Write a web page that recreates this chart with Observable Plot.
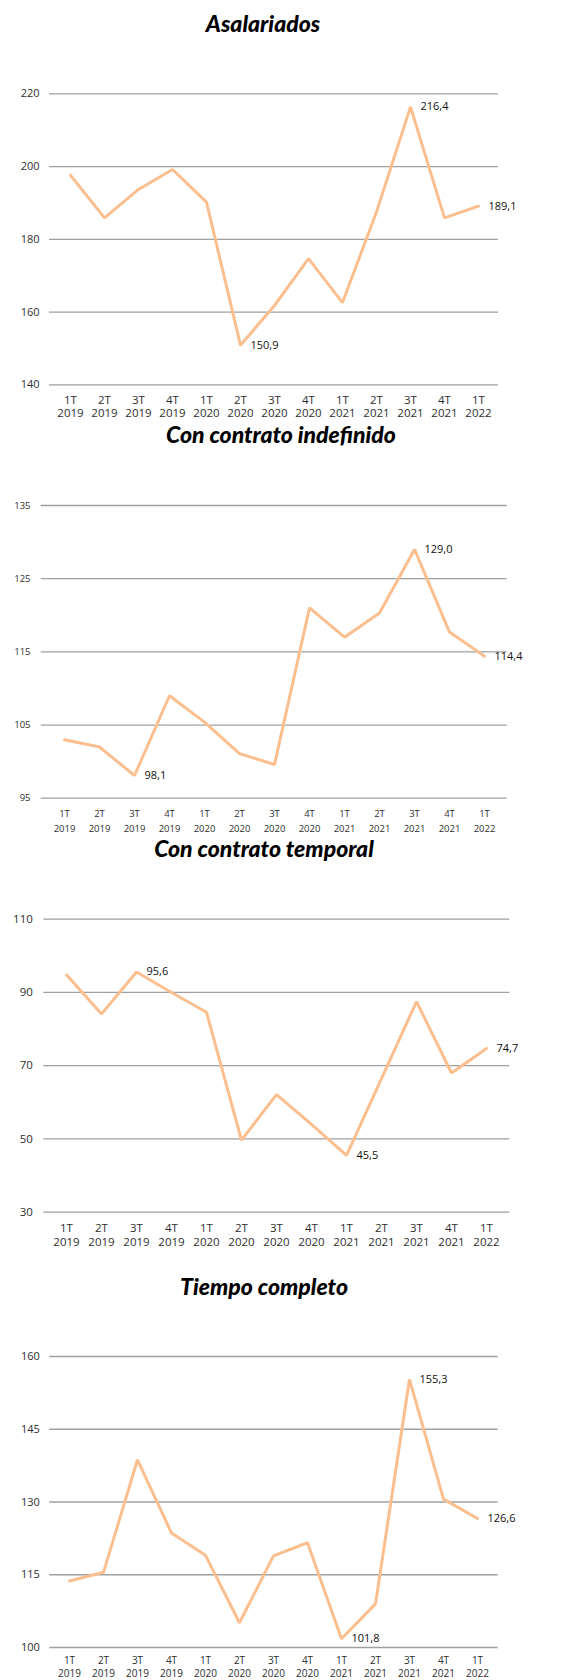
<!DOCTYPE html>
<html>
<head>
<meta charset="utf-8">
<script src="https://cdn.jsdelivr.net/npm/d3@7"></script>
<script src="https://cdn.jsdelivr.net/npm/@observablehq/plot@0.6"></script>
<style>
  html, body { margin: 0; padding: 0; background: #fff; }
  #root { position: relative; width: 581px; height: 1680px; overflow: hidden; }
  .title { position: absolute; font-family: Lato, Inter, sans-serif; font-weight: 900; font-style: italic;
           font-size: 23px; line-height: 23px; color: #000; white-space: nowrap; transform: translateX(-50%); }
</style>
</head>
<body>
<div id="root"></div>
<script>
const categories = ["1T 2019","2T 2019","3T 2019","4T 2019","1T 2020","2T 2020","3T 2020","4T 2020","1T 2021","2T 2021","3T 2021","4T 2021","1T 2022"];

const titles = ["Asalariados", "Con contrato indefinido", "Con contrato temporal", "Tiempo completo"];

const asalariados = [197.6, 185.9, 193.7, 199.2, 190.2, 150.9, 161.8, 174.7, 162.6, 187.5, 216.4, 185.9, 189.1];
const indefinido  = [103.0, 102.0, 98.1, 109.0, 105.4, 101.1, 99.6, 121.0, 117.0, 120.3, 129.0, 117.7, 114.4];
const temporal    = [94.8, 84.1, 95.6, 90.0, 84.6, 49.7, 62.1, 54.0, 45.5, 66.5, 87.5, 68.0, 74.7];
const completo    = [113.7, 115.5, 138.7, 123.6, 119.0, 105.1, 118.9, 121.6, 101.8, 109.0, 155.3, 130.6, 126.6];

const ticksAsalariados = [140, 160, 180, 200, 220];
const ticksIndefinido  = [95, 105, 115, 125, 135];
const ticksTemporal    = [30, 50, 70, 90, 110];
const ticksCompleto    = [100, 115, 130, 145, 160];

const labeledAsalariados = ["2T 2020", "3T 2021", "1T 2022"];
const labeledIndefinido  = ["3T 2019", "3T 2021", "1T 2022"];
const labeledTemporal    = ["3T 2019", "1T 2021", "1T 2022"];
const labeledCompleto    = ["1T 2021", "3T 2021", "1T 2022"];

const fmt = v => v.toFixed(1).replace(".", ",");

const configs = [
  {title: titles[0], values: asalariados, ticks: ticksAsalariados, labeled: labeledAsalariados,
   titleTop: 11.6, titleX: 263, top: 60, height: 375, mt: 33.3, mb: 50.7, ml: 49, mr: 83,
   xFont: 11.5, yFont: 11, dy1: 15.7, dy2: 28.7, ydx: -10},
  {title: titles[1], values: indefinido, ticks: ticksIndefinido, labeled: labeledIndefinido,
   titleTop: 422.9, titleX: 281, top: 470, height: 365, mt: 35, mb: 37.3, ml: 40.7, mr: 74.3,
   xFont: 9.5, yFont: 9.5, dy1: 15.3, dy2: 30.3, ydx: -10.7},
  {title: titles[2], values: temporal, ticks: ticksTemporal, labeled: labeledTemporal,
   titleTop: 836.9, titleX: 264, top: 880, height: 370, mt: 38.7, mb: 38.3, ml: 43.3, mr: 71.7,
   xFont: 11.5, yFont: 11.5, dy1: 16, dy2: 30, ydx: -11},
  {title: titles[3], values: completo, ticks: ticksCompleto, labeled: labeledCompleto,
   titleTop: 1274.6, titleX: 264, top: 1320, height: 360, mt: 36, mb: 33, ml: 49.3, mr: 83.3,
   xFont: 10, yFont: 11, dy1: 13.7, dy2: 26.3, ydx: -10}
];

const root = document.getElementById("root");

for (const c of configs) {
  const data = categories.map((q, i) => ({q, v: c.values[i]}));
  const labeled = data.filter(d => c.labeled.includes(d.q));

  const t = document.createElement("div");
  t.className = "title";
  t.textContent = c.title;
  t.style.top = c.titleTop + "px";
  t.style.left = c.titleX + "px";
  root.appendChild(t);

  const svg = Plot.plot({
    width: 581,
    height: c.height,
    marginTop: c.mt,
    marginBottom: c.mb,
    marginLeft: c.ml,
    marginRight: c.mr,
    style: {fontFamily: "'Open Sans', sans-serif", background: "transparent", overflow: "visible"},
    x: {type: "point", domain: categories, padding: 0.5, axis: null},
    y: {domain: [c.ticks[0], c.ticks[c.ticks.length - 1]], axis: null},
    marks: [
      Plot.ruleY(c.ticks, {stroke: "#a0a0a0", strokeWidth: 1.3}),
      Plot.text(c.ticks, {y: d => d, frameAnchor: "left", dx: c.ydx, textAnchor: "end",
                          fontSize: c.yFont, fill: "#2e2e2e", text: d => String(d)}),
      Plot.text(categories, {x: d => d, frameAnchor: "bottom", dy: c.dy1, lineAnchor: "middle",
                             fontSize: c.xFont, fill: "#2e2e2e", text: d => d.split(" ")[0]}),
      Plot.text(categories, {x: d => d, frameAnchor: "bottom", dy: c.dy2, lineAnchor: "middle",
                             fontSize: c.xFont, fill: "#2e2e2e", text: d => d.split(" ")[1]}),
      Plot.line(data, {x: "q", y: "v", stroke: "#fbbf8f", strokeWidth: 3, strokeLinejoin: "miter"}),
      Plot.text(labeled, {x: "q", y: "v", text: d => fmt(d.v), dx: 10, textAnchor: "start",
                          fontSize: 11, fill: "#111"})
    ]
  });
  svg.style.position = "absolute";
  svg.style.top = c.top + "px";
  svg.style.left = "0px";
  root.appendChild(svg);
}
</script>
</body>
</html>
